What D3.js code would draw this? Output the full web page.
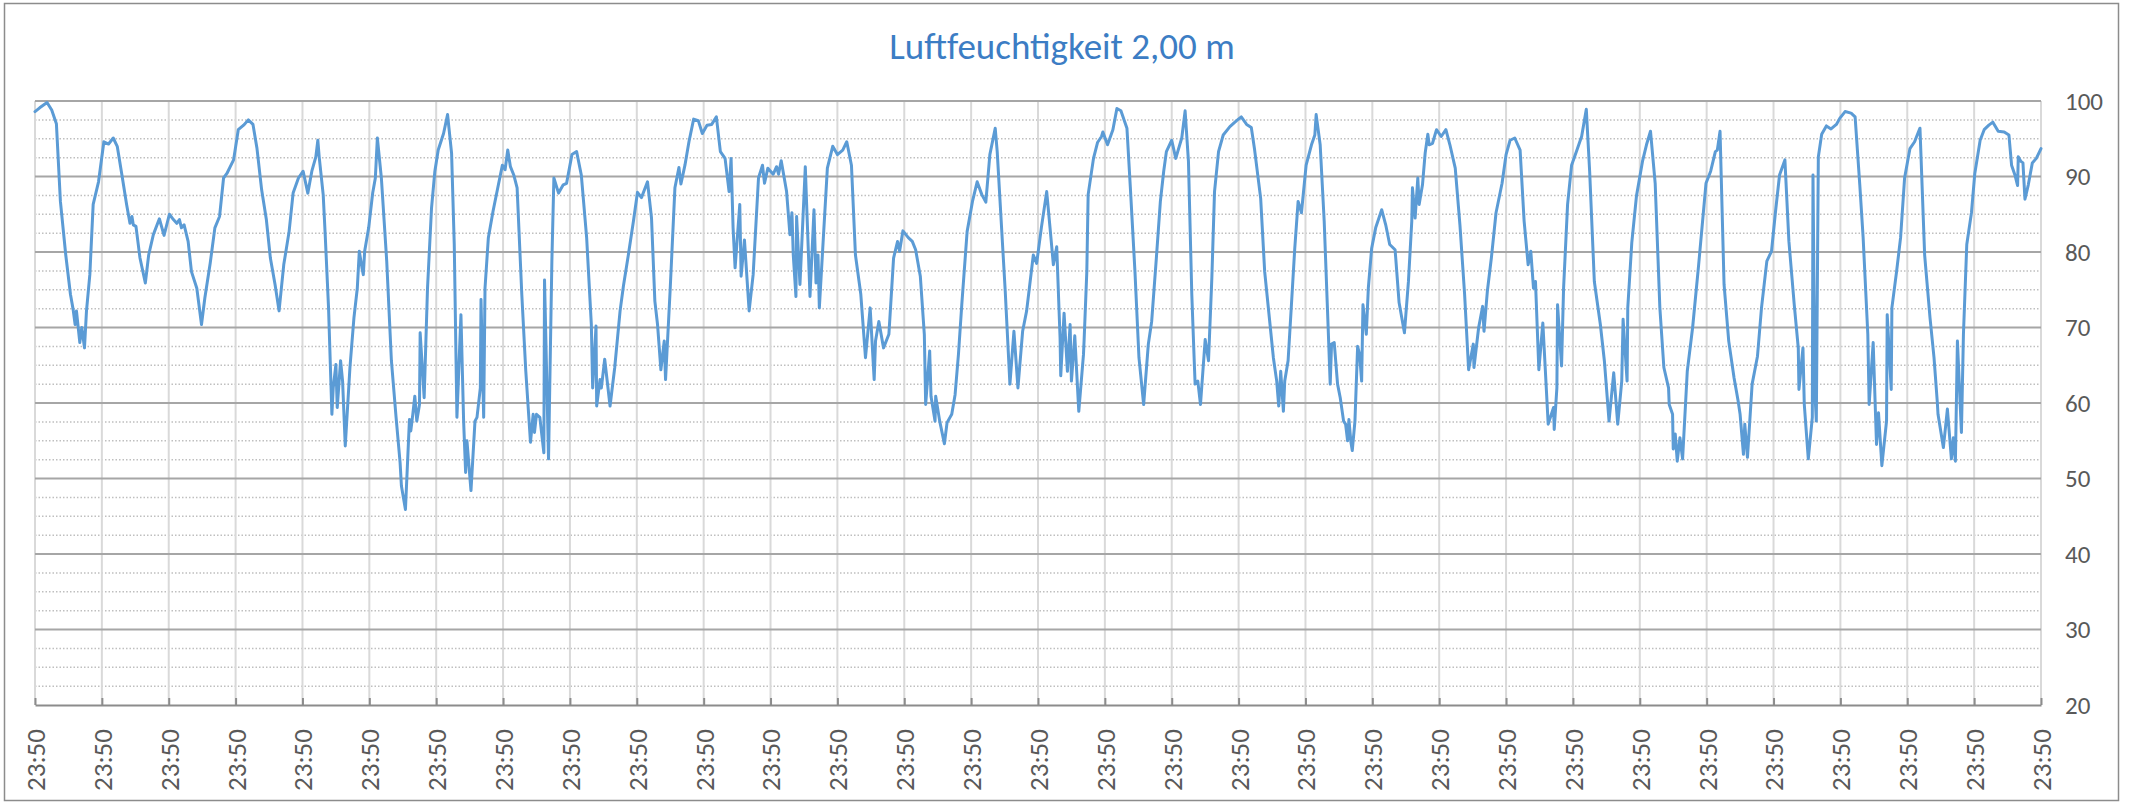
<!DOCTYPE html>
<html>
<head>
<meta charset="utf-8">
<script src="https://cdn.jsdelivr.net/npm/d3@7/dist/d3.min.js"></script>
<style>
  body { margin: 0; background: #fff; }
  text { font-family: Calibri, Carlito, Lato, "Open Sans", sans-serif; }
</style>
</head>
<body>
<script>
var chartTitle = "Luftfeuchtigkeit 2,00 m";

// day offset from the first 23:50 mark, relative humidity in %
var readings = [
    [0.00, 98.6], [0.07, 99.1], [0.18, 99.8], [0.25, 98.8], [0.32, 97.0], [0.38, 86.7], [0.46, 79.6], [0.53, 74.4],
    [0.57, 72.4], [0.60, 70.4], [0.62, 72.2], [0.67, 68.0], [0.70, 70.0], [0.74, 67.3], [0.77, 72.2], [0.82, 77.0],
    [0.87, 86.3], [0.95, 89.3], [1.03, 94.6], [1.10, 94.3], [1.17, 95.1], [1.23, 94.0], [1.30, 90.2], [1.37, 86.3],
    [1.42, 83.8], [1.45, 84.7], [1.47, 83.6], [1.51, 83.4], [1.57, 79.2], [1.65, 75.9], [1.70, 79.6], [1.77, 82.3],
    [1.86, 84.4], [1.93, 82.2], [2.01, 85.0], [2.07, 84.3], [2.12, 83.8], [2.16, 84.3], [2.19, 83.2], [2.23, 83.6],
    [2.29, 81.4], [2.34, 77.4], [2.42, 75.2], [2.49, 70.4], [2.54, 73.9], [2.62, 78.5], [2.69, 83.2], [2.76, 84.7],
    [2.82, 89.8], [2.87, 90.4], [2.92, 91.3], [2.97, 92.2], [3.04, 96.2], [3.12, 96.8], [3.19, 97.5], [3.26, 96.9],
    [3.32, 93.7], [3.39, 88.2], [3.46, 84.3], [3.52, 79.2], [3.59, 75.7], [3.65, 72.2], [3.72, 78.3], [3.80, 82.7],
    [3.86, 87.8], [3.94, 89.8], [4.01, 90.7], [4.08, 87.8], [4.14, 90.7], [4.20, 92.6], [4.23, 94.8], [4.25, 92.6],
    [4.31, 87.6], [4.34, 82.3], [4.39, 72.6], [4.44, 58.5], [4.46, 62.0], [4.50, 65.1], [4.52, 59.4], [4.57, 65.6],
    [4.60, 62.9], [4.64, 54.3], [4.71, 64.7], [4.77, 71.3], [4.82, 75.2], [4.85, 80.1], [4.89, 77.9], [4.91, 77.0],
    [4.93, 80.1], [4.99, 83.2], [5.05, 87.8], [5.09, 89.8], [5.12, 95.1], [5.18, 89.8], [5.26, 78.8], [5.33, 65.6],
    [5.40, 58.1], [5.46, 52.1], [5.48, 49.0], [5.54, 45.9], [5.60, 57.8], [5.62, 56.3], [5.65, 58.5], [5.68, 60.9],
    [5.71, 57.6], [5.75, 59.8], [5.76, 69.3], [5.82, 60.7], [5.87, 75.2], [5.93, 85.8], [5.98, 90.7], [6.03, 93.5],
    [6.11, 95.7], [6.17, 98.2], [6.23, 93.1], [6.27, 81.0], [6.31, 58.1], [6.37, 71.7], [6.41, 57.6], [6.44, 50.8],
    [6.46, 55.0], [6.52, 48.4], [6.58, 57.6], [6.61, 58.1], [6.66, 62.0], [6.67, 73.7], [6.71, 58.1], [6.73, 75.2],
    [6.78, 81.9], [6.85, 85.4], [6.93, 88.9], [6.99, 91.5], [7.03, 90.9], [7.07, 93.5], [7.11, 91.3], [7.16, 90.2],
    [7.21, 88.5], [7.28, 74.4], [7.34, 64.2], [7.41, 54.8], [7.45, 58.5], [7.47, 56.1], [7.50, 58.5], [7.55, 58.1],
    [7.61, 53.4], [7.62, 76.3], [7.68, 52.6], [7.73, 78.8], [7.76, 89.8], [7.83, 87.8], [7.90, 88.9], [7.95, 89.1],
    [8.03, 92.9], [8.10, 93.3], [8.17, 90.2], [8.25, 81.9], [8.32, 70.4], [8.34, 62.0], [8.39, 70.2], [8.40, 59.6],
    [8.45, 63.1], [8.47, 62.0], [8.52, 65.8], [8.60, 59.6], [8.67, 64.7], [8.75, 72.2], [8.80, 75.5], [8.87, 79.4],
    [8.95, 84.1], [9.01, 87.9], [9.07, 87.2], [9.16, 89.3], [9.22, 84.5], [9.27, 73.5], [9.31, 70.4], [9.36, 64.4],
    [9.41, 68.2], [9.43, 63.1], [9.50, 75.2], [9.57, 88.5], [9.63, 91.2], [9.66, 89.0], [9.72, 91.5], [9.78, 94.6],
    [9.85, 97.6], [9.92, 97.4], [9.98, 95.7], [10.05, 96.8], [10.12, 96.9], [10.19, 97.9], [10.25, 93.3], [10.32, 92.4],
    [10.38, 88.0], [10.41, 92.4], [10.44, 83.2], [10.47, 77.9], [10.54, 86.3], [10.56, 76.8], [10.61, 81.6], [10.68, 72.2],
    [10.74, 77.0], [10.82, 89.8], [10.88, 91.5], [10.91, 89.1], [10.96, 91.1], [11.04, 90.3], [11.09, 91.3], [11.12, 90.3],
    [11.16, 92.1], [11.24, 88.0], [11.29, 82.3], [11.32, 85.2], [11.34, 79.6], [11.38, 74.1], [11.39, 84.7], [11.44, 75.7],
    [11.52, 91.3], [11.54, 86.3], [11.59, 74.1], [11.65, 85.6], [11.68, 75.9], [11.71, 79.6], [11.73, 72.6], [11.79, 81.9],
    [11.85, 91.1], [11.93, 94.0], [12.00, 92.9], [12.08, 93.5], [12.14, 94.6], [12.21, 91.5], [12.27, 79.6], [12.35, 74.4],
    [12.42, 66.0], [12.49, 72.6], [12.55, 63.1], [12.57, 68.2], [12.62, 70.8], [12.69, 67.3], [12.77, 69.1], [12.84, 79.2],
    [12.90, 81.4], [12.93, 80.1], [12.98, 82.8], [13.06, 81.9], [13.12, 81.4], [13.17, 80.3], [13.24, 76.8], [13.30, 69.1],
    [13.32, 59.8], [13.38, 66.9], [13.40, 60.9], [13.46, 57.6], [13.47, 60.9], [13.53, 57.6], [13.60, 54.6], [13.64, 57.4],
    [13.71, 58.5], [13.76, 61.1], [13.81, 66.4], [13.86, 73.0], [13.94, 82.7], [14.02, 86.7], [14.09, 89.3], [14.16, 87.6],
    [14.22, 86.6], [14.28, 92.9], [14.36, 96.4], [14.39, 93.3], [14.43, 87.1], [14.51, 74.8], [14.58, 62.5], [14.64, 69.5],
    [14.70, 62.0], [14.77, 69.5], [14.83, 72.2], [14.93, 79.6], [14.98, 78.5], [15.05, 83.2], [15.13, 88.0], [15.18, 83.2],
    [15.23, 78.3], [15.28, 80.7], [15.33, 68.6], [15.34, 63.6], [15.39, 71.9], [15.44, 64.2], [15.48, 70.4], [15.50, 62.9],
    [15.55, 68.9], [15.61, 58.9], [15.68, 66.4], [15.69, 68.4], [15.73, 77.4], [15.75, 87.6], [15.83, 92.4], [15.89, 94.5],
    [15.95, 95.3], [15.97, 95.9], [16.04, 94.2], [16.12, 96.2], [16.18, 99.0], [16.24, 98.7], [16.33, 96.4], [16.38, 88.7],
    [16.45, 77.4], [16.51, 66.0], [16.58, 59.8], [16.65, 67.8], [16.70, 70.8], [16.77, 79.2], [16.83, 86.7], [16.88, 90.7],
    [16.92, 93.3], [17.00, 94.8], [17.06, 92.4], [17.15, 95.1], [17.20, 98.7], [17.25, 92.0], [17.30, 74.4], [17.34, 64.7],
    [17.35, 62.5], [17.39, 62.9], [17.43, 59.8], [17.50, 68.4], [17.55, 65.6], [17.60, 76.6], [17.64, 88.0], [17.70, 93.3],
    [17.77, 95.5], [17.87, 96.6], [17.97, 97.4], [18.04, 97.9], [18.12, 96.9], [18.19, 96.5], [18.24, 93.5], [18.33, 87.1],
    [18.39, 77.4], [18.47, 70.4], [18.52, 66.0], [18.57, 62.9], [18.60, 59.6], [18.63, 64.2], [18.67, 58.9], [18.69, 62.9],
    [18.74, 65.6], [18.79, 73.0], [18.84, 80.5], [18.89, 86.7], [18.94, 85.2], [19.01, 91.5], [19.09, 94.2], [19.14, 95.5],
    [19.16, 98.2], [19.22, 94.2], [19.28, 84.1], [19.33, 72.2], [19.37, 62.5], [19.39, 67.8], [19.43, 68.0], [19.48, 62.5],
    [19.52, 60.7], [19.57, 57.6], [19.60, 57.2], [19.63, 55.0], [19.65, 57.8], [19.68, 54.8], [19.70, 53.7], [19.74, 57.6],
    [19.78, 67.5], [19.81, 66.4], [19.84, 62.9], [19.86, 73.0], [19.91, 69.1], [19.94, 75.2], [19.99, 80.5], [20.05, 83.2],
    [20.14, 85.6], [20.20, 83.6], [20.26, 81.0], [20.34, 80.3], [20.35, 79.2], [20.40, 73.3], [20.48, 69.3], [20.54, 76.1],
    [20.59, 84.1], [20.60, 88.5], [20.64, 84.5], [20.68, 89.8], [20.70, 86.3], [20.75, 88.9], [20.79, 93.1], [20.83, 95.6],
    [20.85, 94.2], [20.90, 94.4], [20.96, 96.2], [21.03, 95.3], [21.10, 96.2], [21.16, 94.2], [21.24, 91.1], [21.31, 83.6],
    [21.38, 74.4], [21.44, 64.4], [21.51, 67.8], [21.52, 64.7], [21.59, 70.0], [21.65, 72.8], [21.67, 69.5], [21.72, 74.8],
    [21.78, 79.2], [21.85, 85.2], [21.94, 89.1], [22.00, 92.9], [22.06, 94.8], [22.13, 95.1], [22.21, 93.5], [22.27, 84.1],
    [22.33, 78.3], [22.37, 80.1], [22.41, 75.2], [22.44, 76.1], [22.49, 64.4], [22.55, 70.6], [22.63, 57.2], [22.71, 59.4],
    [22.72, 56.5], [22.76, 62.0], [22.77, 73.0], [22.83, 64.9], [22.86, 75.2], [22.92, 86.3], [22.98, 91.5], [23.06, 93.5],
    [23.13, 95.3], [23.20, 98.9], [23.25, 90.7], [23.32, 76.1], [23.41, 70.4], [23.47, 65.6], [23.54, 57.6], [23.61, 64.0],
    [23.67, 57.2], [23.73, 62.9], [23.75, 71.1], [23.81, 62.9], [23.82, 72.6], [23.88, 81.2], [23.95, 87.4], [24.04, 92.0],
    [24.10, 94.2], [24.16, 96.0], [24.23, 89.1], [24.30, 72.6], [24.36, 64.7], [24.43, 62.0], [24.44, 59.8], [24.49, 58.5],
    [24.50, 53.9], [24.53, 55.9], [24.56, 52.3], [24.60, 55.4], [24.64, 52.6], [24.71, 64.2], [24.79, 70.0], [24.88, 78.3],
    [24.99, 89.1], [25.06, 90.7], [25.13, 93.3], [25.16, 93.5], [25.20, 96.0], [25.26, 75.7], [25.33, 68.2], [25.41, 63.3],
    [25.47, 60.3], [25.50, 58.5], [25.55, 53.2], [25.57, 57.2], [25.61, 52.8], [25.68, 62.5], [25.76, 66.2], [25.82, 72.6],
    [25.90, 78.8], [25.97, 80.1], [26.03, 85.4], [26.09, 90.2], [26.17, 92.2], [26.23, 81.4], [26.31, 73.0], [26.37, 67.3],
    [26.38, 61.8], [26.44, 67.3], [26.46, 59.8], [26.52, 52.6], [26.58, 58.1], [26.59, 90.2], [26.62, 61.1], [26.64, 57.6],
    [26.67, 92.6], [26.72, 95.6], [26.79, 96.7], [26.86, 96.3], [26.94, 96.9], [26.99, 97.7], [27.07, 98.6], [27.16, 98.4],
    [27.22, 97.9], [27.29, 88.9], [27.34, 81.9], [27.41, 69.1], [27.43, 59.8], [27.49, 68.0], [27.54, 54.5], [27.57, 58.7],
    [27.62, 51.7], [27.69, 57.6], [27.70, 71.7], [27.76, 61.8], [27.77, 72.6], [27.84, 77.4], [27.90, 81.9], [27.96, 89.8],
    [28.04, 93.7], [28.11, 94.6], [28.14, 95.3], [28.19, 96.4], [28.26, 79.6], [28.34, 71.3], [28.40, 66.0], [28.45, 60.0],
    [28.46, 58.5], [28.54, 54.1], [28.60, 59.2], [28.66, 52.6], [28.69, 55.4], [28.72, 52.3], [28.75, 68.2], [28.81, 56.1],
    [28.84, 69.1], [28.89, 81.0], [28.96, 85.2], [29.01, 90.4], [29.09, 94.8], [29.15, 96.2], [29.22, 96.8], [29.28, 97.2],
    [29.36, 96.0], [29.45, 95.9], [29.52, 95.5], [29.56, 91.5], [29.61, 90.2], [29.65, 88.8], [29.66, 92.6], [29.70, 92.0],
    [29.73, 91.8], [29.76, 87.0], [29.81, 88.9], [29.87, 91.8], [29.93, 92.4], [30.00, 93.7]
];

var dayTicks = d3.range(0, 31);
var tickLabels = dayTicks.map(function() { return "23:50"; });
var yMajorTicks = [20, 30, 40, 50, 60, 70, 80, 90, 100];
var yMinorTicks = d3.range(20, 100, 2.5).filter(function(v) { return v % 10 !== 0; });

var width = 2130,
    height = 803;

var plot = { left: 35, right: 2041, top: 101, bottom: 705 };

var svg = d3.select("body").append("svg")
    .attr("width", width)
    .attr("height", height);

// outer chart border
svg.append("rect")
    .attr("x", 4.5)
    .attr("y", 3.5)
    .attr("width", 2114)
    .attr("height", 797)
    .style("fill", "#fff")
    .style("stroke", "#8c8c8c")
    .style("stroke-width", 1.5);

var x = d3.scaleLinear().domain([0, 30]).range([plot.left, plot.right]);
var y = d3.scaleLinear().domain([20, 100]).range([plot.bottom, plot.top]);

// minor horizontal grid (dotted)
svg.append("g").selectAll("line")
    .data(yMinorTicks)
    .enter().append("line")
    .attr("x1", plot.left)
    .attr("x2", plot.right)
    .attr("y1", function(d) { return y(d); })
    .attr("y2", function(d) { return y(d); })
    .style("stroke", "#bfbfbf")
    .style("stroke-width", 1.5)
    .style("stroke-dasharray", "1.5,2");

// vertical grid, one line per day
svg.append("g").selectAll("line")
    .data(dayTicks)
    .enter().append("line")
    .attr("x1", function(d) { return x(d); })
    .attr("x2", function(d) { return x(d); })
    .attr("y1", plot.top)
    .attr("y2", plot.bottom)
    .style("stroke", "#d9d9d9")
    .style("stroke-width", 2);

// major horizontal grid
svg.append("g").selectAll("line")
    .data(yMajorTicks.slice(1))
    .enter().append("line")
    .attr("x1", plot.left)
    .attr("x2", plot.right)
    .attr("y1", function(d) { return y(d); })
    .attr("y2", function(d) { return y(d); })
    .style("stroke", "#a6a6a6")
    .style("stroke-width", 2);

// x axis
var xAxis = d3.axisBottom(x)
    .tickValues(dayTicks)
    .tickFormat(function(d, i) { return tickLabels[i]; })
    .tickSizeInner(-7)
    .tickSizeOuter(0);

var gx = svg.append("g")
    .attr("transform", "translate(0," + plot.bottom + ")")
    .call(xAxis);

gx.select(".domain").style("stroke", "#8c8c8c").style("stroke-width", 2);
gx.selectAll(".tick line").style("stroke", "#8c8c8c").style("stroke-width", 2);
gx.selectAll(".tick text")
    .attr("transform", "rotate(-90)")
    .attr("x", -24)
    .attr("y", 0)
    .attr("dy", "0.35em")
    .style("text-anchor", "end")
    .style("font-size", "27px")
    .style("fill", "#595959");

// y axis on the right
var yAxis = d3.axisRight(y)
    .tickValues(yMajorTicks)
    .tickSize(0)
    .tickPadding(24);

var gy = svg.append("g")
    .attr("transform", "translate(" + plot.right + ",0)")
    .call(yAxis);

gy.select(".domain").remove();
gy.selectAll(".tick text")
    .style("font-size", "25px")
    .style("fill", "#595959");

// humidity line
var line = d3.line()
    .x(function(d) { return x(d[0]); })
    .y(function(d) { return y(d[1]); });

svg.append("path")
    .datum(readings)
    .attr("d", line)
    .style("fill", "none")
    .style("stroke", "#5b9bd5")
    .style("stroke-width", 3)
    .style("stroke-linejoin", "round")
    .style("stroke-linecap", "round");

// title
svg.append("text")
    .attr("x", 1062)
    .attr("y", 59)
    .attr("text-anchor", "middle")
    .style("font-size", "37px")
    .style("fill", "#3c7dc4")
    .text(chartTitle);
</script>
</body>
</html>
